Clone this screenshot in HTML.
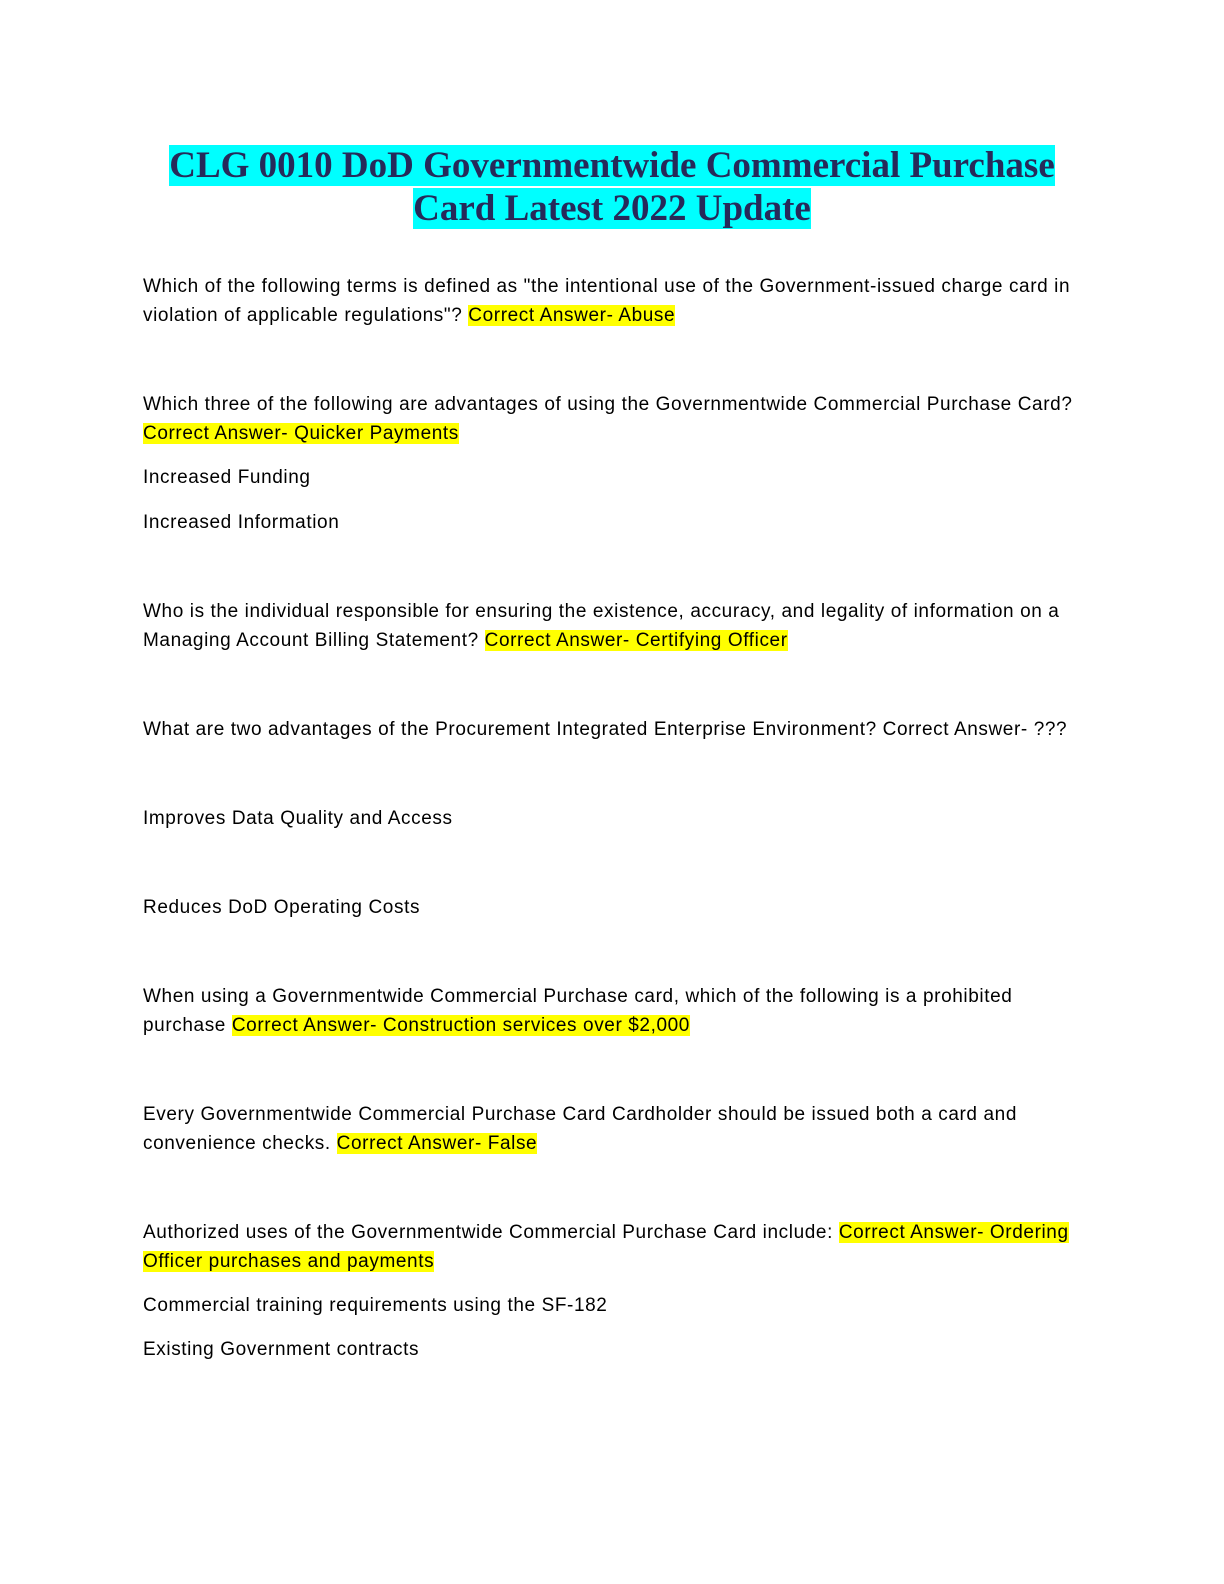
<!DOCTYPE html>
<html><head><meta charset="utf-8"><style>
body{margin:0;width:1224px;height:1584px;background:#fff;position:relative;overflow:hidden}
.t{position:absolute;left:0;width:1224px;text-align:center;font-family:"Liberation Serif",serif;font-weight:bold;font-size:37px;color:#262a5a;line-height:42px;white-space:nowrap}
.t span{background:#00ffff}
.l{position:absolute;left:143px;font-family:"Liberation Sans",sans-serif;font-size:19px;letter-spacing:0.6px;line-height:25px;color:#000;white-space:nowrap}
.h{background:#ffff00}
</style></head><body>
<div class="t" style="top:145px"><span>CLG 0010 DoD Governmentwide Commercial Purchase</span></div>
<div class="t" style="top:188px"><span>Card Latest 2022 Update</span></div>
<div class="l" style="top:274px">Which of the following terms is defined as "the intentional use of the Government-issued charge card in</div>
<div class="l" style="top:303px">violation of applicable regulations"? <span class="h">Correct Answer- Abuse</span></div>
<div class="l" style="top:392px">Which three of the following are advantages of using the Governmentwide Commercial Purchase Card?</div>
<div class="l" style="top:421px"><span class="h">Correct Answer- Quicker Payments</span></div>
<div class="l" style="top:465px">Increased Funding</div>
<div class="l" style="top:510px">Increased Information</div>
<div class="l" style="top:599px">Who is the individual responsible for ensuring the existence, accuracy, and legality of information on a</div>
<div class="l" style="top:628px">Managing Account Billing Statement? <span class="h">Correct Answer- Certifying Officer</span></div>
<div class="l" style="top:717px">What are two advantages of the Procurement Integrated Enterprise Environment? Correct Answer- ???</div>
<div class="l" style="top:806px">Improves Data Quality and Access</div>
<div class="l" style="top:895px">Reduces DoD Operating Costs</div>
<div class="l" style="top:984px">When using a Governmentwide Commercial Purchase card, which of the following is a prohibited</div>
<div class="l" style="top:1013px">purchase <span class="h">Correct Answer- Construction services over $2,000</span></div>
<div class="l" style="top:1102px">Every Governmentwide Commercial Purchase Card Cardholder should be issued both a card and</div>
<div class="l" style="top:1131px">convenience checks. <span class="h">Correct Answer- False</span></div>
<div class="l" style="top:1220px">Authorized uses of the Governmentwide Commercial Purchase Card include: <span class="h">Correct Answer- Ordering</span></div>
<div class="l" style="top:1249px"><span class="h">Officer purchases and payments</span></div>
<div class="l" style="top:1293px">Commercial training requirements using the SF-182</div>
<div class="l" style="top:1337px">Existing Government contracts</div>
</body></html>
